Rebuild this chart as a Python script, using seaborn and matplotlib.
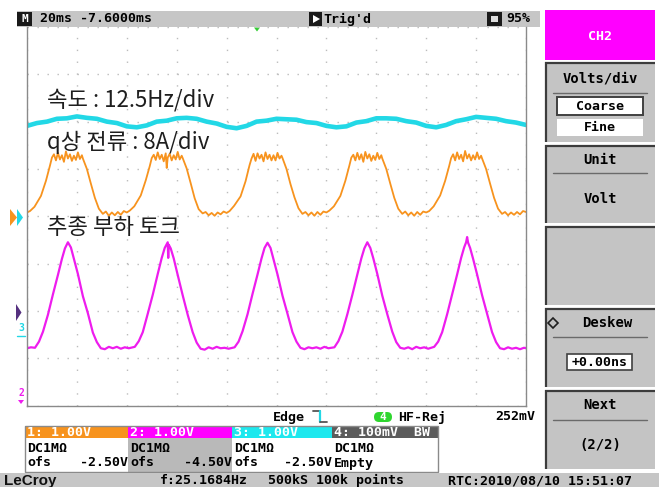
import matplotlib
matplotlib.use("Agg")
import matplotlib.pyplot as plt
from matplotlib.patches import Rectangle, Polygon, FancyBboxPatch
import pandas as pd
import seaborn as sns

# ---------------- data (time in ms, 20 ms/div; amplitude in screen divisions from bottom) ----------------
speed_t = [0, 4, 8, 12, 16, 20, 24, 28, 32, 36, 40, 44, 48, 52, 56, 60, 64, 68, 72, 76,
           80, 84, 88, 92, 96, 100, 104, 108, 112, 116, 120, 124, 128, 132, 136, 140, 144, 148, 152, 156,
           160, 164, 168, 172, 176, 180, 184, 188, 192, 196, 200]
speed_v = [5.91, 5.97, 6.00, 6.06, 6.07, 6.11, 6.08, 6.06, 6.00, 5.97, 5.90, 5.88, 5.92, 6.00, 6.02, 6.07, 6.08, 6.06, 6.00, 5.96,
           5.89, 5.86, 5.91, 6.00, 6.02, 6.06, 6.05, 6.04, 5.99, 5.97, 5.91, 5.88, 5.90, 5.98, 6.01, 6.07, 6.07, 6.06, 6.01, 5.98,
           5.91, 5.88, 5.93, 6.01, 6.05, 6.10, 6.08, 6.06, 6.01, 5.98, 5.93]

current_t = [
    0.0, 1.2, 3.0, 5.6, 7.6, 9.2, 10.0,
    10.8, 11.6, 12.4, 13.2, 14.0, 14.8, 15.6, 16.4, 17.2, 18.0, 18.8, 19.6, 20.4, 21.2, 22.0, 22.4,
    24.0, 25.6, 27.2, 28.8, 30.4,
    31.6, 32.8, 34.0, 35.2, 36.4, 37.6, 38.8,
    40.0, 41.2, 43.0, 45.6, 47.6, 49.2, 50.0,
    50.8, 51.6, 52.4, 53.2, 54.0, 54.8, 55.6, 56.0, 56.4, 57.2, 58.0, 58.8, 59.6, 60.4, 61.2, 62.0, 62.4,
    64.0, 65.6, 67.2, 68.8, 70.4,
    71.6, 72.8, 74.0, 75.2, 76.4, 77.6, 78.8,
    80.0, 81.2, 83.0, 85.6, 87.6, 89.2, 90.0,
    90.8, 91.6, 92.4, 93.2, 94.0, 94.8, 95.6, 96.4, 97.2, 98.0, 98.8, 99.6, 100.4, 101.2, 102.0, 102.4,
    104.0, 105.6, 107.2, 108.8, 110.4,
    111.6, 112.8, 114.0, 115.2, 116.4, 117.6, 118.8,
    120.0, 121.2, 123.0, 125.6, 127.6, 129.2, 130.0,
    130.8, 131.6, 132.4, 133.2, 134.0, 134.8, 135.6, 136.4, 137.2, 138.0, 138.8, 139.6, 140.4, 141.2, 142.0, 142.4,
    144.0, 145.6, 147.2, 148.8, 150.4,
    151.6, 152.8, 154.0, 155.2, 156.4, 157.6, 158.8,
    160.0, 161.2, 163.0, 165.6, 167.6, 169.2, 170.0,
    170.8, 171.6, 172.4, 173.2, 174.0, 174.8, 175.6, 176.4, 177.2, 178.0, 178.8, 179.6, 180.4, 181.2, 182.0, 182.4,
    184.0, 185.6, 187.2, 188.8, 190.4,
    191.6, 192.8, 194.0, 195.2, 196.4, 197.6, 198.8, 200.0,
]
current_v = [
    4.08, 4.11, 4.20, 4.43, 4.75, 5.07, 5.24,
    5.31, 5.18, 5.34, 5.20, 5.29, 5.15, 5.37, 5.22, 5.31, 5.17, 5.28, 5.19, 5.35, 5.21, 5.29, 5.22,
    5.00, 4.69, 4.39, 4.16, 4.05,
    4.10, 4.01, 4.08, 4.02, 4.09, 4.03, 4.11,
    4.08, 4.12, 4.21, 4.44, 4.76, 5.06, 5.23,
    5.30, 5.19, 5.35, 5.21, 5.30, 5.16, 5.33, 5.02, 5.24, 5.32, 5.18, 5.29, 5.20, 5.36, 5.20, 5.28, 5.23,
    5.01, 4.70, 4.38, 4.15, 4.06,
    4.09, 4.02, 4.07, 4.01, 4.08, 4.04, 4.10,
    4.07, 4.11, 4.22, 4.42, 4.74, 5.08, 5.22,
    5.32, 5.17, 5.33, 5.22, 5.30, 5.16, 5.35, 5.21, 5.30, 5.18, 5.29, 5.18, 5.34, 5.22, 5.28, 5.23,
    5.00, 4.68, 4.40, 4.17, 4.05,
    4.09, 4.02, 4.08, 4.01, 4.09, 4.03, 4.10,
    4.08, 4.12, 4.21, 4.43, 4.75, 5.07, 5.24,
    5.30, 5.18, 5.34, 5.20, 5.31, 5.15, 5.36, 5.22, 5.31, 5.17, 5.28, 5.19, 5.34, 5.21, 5.29, 5.22,
    5.00, 4.69, 4.39, 4.16, 4.05,
    4.10, 4.02, 4.08, 4.01, 4.09, 4.03, 4.10,
    4.08, 4.11, 4.21, 4.44, 4.75, 5.06, 5.23,
    5.31, 5.18, 5.35, 5.21, 5.30, 5.16, 5.38, 5.22, 5.31, 5.18, 5.29, 5.20, 5.35, 5.21, 5.28, 5.22,
    5.00, 4.69, 4.39, 4.16, 4.05,
    4.09, 4.02, 4.08, 4.03, 4.09, 4.04, 4.11, 4.09,
]

torque_t = [
    0.0, 1.6,
    3.2, 4.8, 6.4, 8.4, 10.4, 12.4, 14.0, 15.2, 16.4, 17.6, 18.8, 20.4, 22.4, 24.4, 26.4, 28.0, 29.6,
    31.2, 32.8, 34.4, 36.0, 37.6, 39.2, 40.8,
    43.2, 44.8, 46.4, 48.4, 50.4, 52.4, 54.0, 55.2, 56.4, 56.6, 56.8, 57.6, 58.8, 60.4, 62.4, 64.4, 66.4, 68.0, 69.6,
    71.2, 72.8, 74.4, 76.0, 77.6, 79.2, 80.8,
    83.2, 84.8, 86.4, 88.4, 90.4, 92.4, 94.0, 95.2, 96.4, 97.6, 98.8, 100.4, 102.4, 104.4, 106.4, 108.0, 109.6,
    111.2, 112.8, 114.4, 116.0, 117.6, 119.2, 120.8,
    123.2, 124.8, 126.4, 128.4, 130.4, 132.4, 134.0, 135.2, 136.4, 137.6, 138.8, 140.4, 142.4, 144.4, 146.4, 148.0, 149.6,
    151.2, 152.8, 154.4, 156.0, 157.6, 159.2, 160.8,
    163.2, 164.8, 166.4, 168.4, 170.4, 172.4, 174.0, 175.2, 176.0, 176.4, 176.8, 177.6, 178.8, 180.4, 182.4, 184.4, 186.4, 188.0, 189.6,
    191.2, 192.8, 194.4, 196.0, 197.6, 199.2, 200.0,
]
torque_v = [
    1.21, 1.23,
    1.22, 1.35, 1.56, 1.92, 2.35, 2.76, 3.10, 3.32, 3.45, 3.34, 3.10, 2.78, 2.31, 1.95, 1.54, 1.34, 1.21,
    1.19, 1.24, 1.21, 1.24, 1.20, 1.23, 1.21,
    1.24, 1.36, 1.55, 1.94, 2.34, 2.78, 3.12, 3.33, 3.45, 3.12, 3.40, 3.32, 3.11, 2.76, 2.33, 1.92, 1.55, 1.33, 1.20,
    1.18, 1.23, 1.20, 1.24, 1.21, 1.22, 1.20,
    1.23, 1.35, 1.57, 1.93, 2.36, 2.77, 3.11, 3.33, 3.44, 3.33, 3.09, 2.77, 2.32, 1.94, 1.55, 1.35, 1.22,
    1.19, 1.23, 1.21, 1.23, 1.20, 1.24, 1.21,
    1.23, 1.36, 1.56, 1.93, 2.34, 2.77, 3.11, 3.32, 3.45, 3.33, 3.11, 2.78, 2.32, 1.93, 1.56, 1.34, 1.22,
    1.20, 1.23, 1.19, 1.24, 1.21, 1.23, 1.20,
    1.24, 1.35, 1.55, 1.93, 2.35, 2.77, 3.12, 3.34, 3.45, 3.56, 3.44, 3.33, 3.10, 2.77, 2.33, 1.94, 1.55, 1.34, 1.21,
    1.19, 1.23, 1.20, 1.22, 1.19, 1.22, 1.21,
]

trace_labels = ["속도 : 12.5Hz/div", "q상 전류 : 8A/div", "추종 부하 토크"]
channel_headers = ["1: 1.00V", "2: 1.00V", "3: 1.00V", "4: 100mV  BW"]
channel_coupling = ["DC1MΩ", "DC1MΩ", "DC1MΩ", "DC1MΩ"]
channel_offsets = ["-2.50V", "-4.50V", "-2.50V", ""]
channel_offset_names = ["ofs", "ofs", "ofs", "Empty"]
div_ticks_x = [0, 20, 40, 60, 80, 100, 120, 140, 160, 180, 200]
div_ticks_y = [0, 1, 2, 3, 4, 5, 6, 7, 8]

# ---------------- style ----------------
sns.set_theme(style="white")
plt.rcParams['font.family'] = ['DejaVu Sans']
plt.rcParams['lines.scale_dashes'] = False

ORANGE = "#f7931e"
MAGENTA = "#ee1cee"
CYAN = "#22d8e6"
MONO = "DejaVu Sans Mono"
KR = ["Noto Sans CJK KR", "DejaVu Sans"]

W, H = 659, 487
fig = plt.figure(figsize=(W / 100, H / 100), dpi=100)
fig.patch.set_facecolor("white")

# overlay in pixel coordinates for the scope UI chrome
ov = fig.add_axes([0, 0, 1, 1], zorder=0)
ov.set_xlim(0, W)
ov.set_ylim(H, 0)
ov.axis("off")

X0, X1, Y0, Y1 = 27, 526, 27, 405.5
ax = fig.add_axes([X0 / W, 1 - Y1 / H, (X1 - X0) / W, (Y1 - Y0) / H], zorder=1)
ax.set_facecolor("none")

df_speed = pd.DataFrame({"t": speed_t, "v": speed_v})
df_cur = pd.DataFrame({"t": current_t, "v": current_v})
df_tq = pd.DataFrame({"t": torque_t, "v": torque_v})

sns.lineplot(data=df_speed, x="t", y="v", ax=ax, color=CYAN, linewidth=3.3, estimator=None, sort=False)
sns.lineplot(data=df_cur, x="t", y="v", ax=ax, color=ORANGE, linewidth=1.3, estimator=None, sort=False)
sns.lineplot(data=df_tq, x="t", y="v", ax=ax, color=MAGENTA, linewidth=1.6, estimator=None, sort=False)

ax.set_xlim(0, 200)
ax.set_ylim(0, 8)
ax.set_xticks(div_ticks_x)
ax.set_yticks(div_ticks_y)
ax.tick_params(length=0, labelbottom=False, labelleft=False)
ax.set_xlabel("")
ax.set_ylabel("")
ax.xaxis.grid(True, color="#bcbcbc", linewidth=1.0, linestyle=(0, (1.0, 7.53)))
ax.yaxis.grid(True, color="#bcbcbc", linewidth=1.0, linestyle=(0, (1.0, 6.2)))
ax.set_axisbelow(True)
for side in ["left", "bottom", "right"]:
    ax.spines[side].set_visible(True)
    ax.spines[side].set_color("#8a8a8a")
    ax.spines[side].set_linewidth(1.0)
ax.spines["top"].set_visible(False)

# trace annotations (Korean)
for lab, yy in zip(trace_labels, [100, 142, 228]):
    ax.text(47, yy, lab, transform=ov.transData, family=KR, fontsize=16, color="#1e1e1e",
            ha="left", va="center", clip_on=False, zorder=5)

def txt(x, y, s, ha="left", color="black", size=9.5, weight="bold", family=MONO, **kw):
    ov.text(x, y, s, ha=ha, va="center", color=color, fontsize=size, fontweight=weight, family=family, **kw)

# ---------------- top status bar ----------------
ov.add_patch(Rectangle((17, 11), 523, 16, facecolor="#c6c6c6", edgecolor="none"))
ov.add_patch(Rectangle((17, 12), 15, 14, facecolor="#1a1a1a", edgecolor="none"))
txt(24.5, 19, "M", ha="center", color="white", size=8)
txt(40, 19, "20ms -7.6000ms")
ov.add_patch(Rectangle((309, 12), 13, 14, facecolor="#1a1a1a", edgecolor="none"))
ov.add_patch(Polygon([(313, 15), (320, 19), (313, 23)], facecolor="white", edgecolor="none"))
txt(323, 19, "Trig'd")
ov.add_patch(Rectangle((487, 12), 15, 14, facecolor="#1a1a1a", edgecolor="none"))
ov.add_patch(Rectangle((491, 16), 7, 6, facecolor="#dddddd", edgecolor="none"))
txt(506, 19, "95%")
ov.add_patch(Polygon([(254, 27.5), (260, 27.5), (257, 31.5)], facecolor="#33cc33", edgecolor="none"))

# ---------------- left edge markers ----------------
ov.add_patch(Polygon([(10, 209), (17, 217.5), (10, 226)], facecolor=ORANGE, edgecolor="none"))
ov.add_patch(Polygon([(17, 209), (23, 217.5), (17, 226)], facecolor=CYAN, edgecolor="none"))
ov.add_patch(Polygon([(16, 304), (21.5, 312.5), (16, 321)], facecolor="#55307f", edgecolor="none"))
txt(21, 328, "3", ha="center", color=CYAN, size=7)
ov.plot([17, 25], [336, 336], color=CYAN, lw=1)
txt(21, 393, "2", ha="center", color=MAGENTA, size=7)
ov.add_patch(Polygon([(18, 400), (24, 400), (21, 404)], facecolor=MAGENTA, edgecolor="none"))

# ---------------- right menu panel ----------------
PX0, PX1 = 545, 655
PXC = (PX0 + PX1) / 2

def button(y_top, y_bot, face="#c4c4c4"):
    ov.add_patch(Rectangle((PX0, y_top), PX1 - PX0, y_bot - y_top, facecolor=face, edgecolor="none"))
    ov.plot([PX0 + 0.7, PX0 + 0.7], [y_bot, y_top], color="#3c3c3c", lw=1.6, solid_capstyle="butt")
    ov.plot([PX0, PX1], [y_top + 0.7, y_top + 0.7], color="#3c3c3c", lw=1.6, solid_capstyle="butt")

def separator(y):
    ov.plot([PX0 + 8, PX1 - 8], [y, y], color="#6a6a6a", lw=1.0)

ov.add_patch(Rectangle((PX0, 10), PX1 - PX0, 50, facecolor="#ff00ff", edgecolor="none"))
txt(PXC, 36, "CH2", ha="center", color="white", size=9.5)

button(62, 142)
txt(PXC, 78, "Volts/div", ha="center", size=10)
separator(93)
ov.add_patch(Rectangle((557, 97), 86, 18, facecolor="white", edgecolor="#404040", lw=1.4))
txt(PXC, 106, "Coarse", ha="center", size=9.5)
ov.add_patch(Rectangle((557, 119), 86, 17, facecolor="white", edgecolor="none"))
txt(PXC, 127.5, "Fine", ha="center", size=9.5)

button(145, 223)
txt(PXC, 160, "Unit", ha="center", size=10)
separator(173)
txt(PXC, 199, "Volt", ha="center", size=10)

button(226, 305)

button(308, 387)
ov.add_patch(Polygon([(548, 323), (553, 318), (558, 323), (553, 328)], facecolor="none", edgecolor="#202020", lw=1.2))
txt(607, 323, "Deskew", ha="center", size=10)
separator(337)
ov.add_patch(Rectangle((567, 354), 65, 16, facecolor="white", edgecolor="#404040", lw=1.2))
txt(599.5, 362, "+0.00ns", ha="center", size=9.5)

button(390, 469)
txt(PXC, 405, "Next", ha="center", size=10)
separator(420)
txt(PXC, 445, "(2/2)", ha="center", size=10)

# ---------------- trigger line ----------------
txt(273, 417, "Edge", size=9.5)
ov.plot([313, 320], [411, 411], color="#555555", lw=1.3)
ov.plot([320, 320], [411, 422], color=CYAN, lw=1.6)
ov.plot([320, 327], [422, 422], color="#555555", lw=1.3)
ov.add_patch(FancyBboxPatch((374, 412), 18, 10, boxstyle="round,pad=0,rounding_size=5",
                            facecolor="#2fd62f", edgecolor="none"))
txt(383, 417, "4", ha="center", color="white", size=8)
txt(398, 417, "HF-Rej", size=9.5)
txt(535, 417, "252mV", ha="right", size=9.5)

# ---------------- channel boxes ----------------
box_x = [25, 128, 232, 332, 438]
head_cols = [ORANGE, "#ff00ff", "#1ee8ee", "#5c5c5c"]
body_cols = ["white", "#b9b9b9", "white", "white"]
for i in range(4):
    xl, xr = box_x[i], box_x[i + 1]
    ov.add_patch(Rectangle((xl, 426), xr - xl, 12, facecolor=head_cols[i], edgecolor="none"))
    ov.add_patch(Rectangle((xl, 438), xr - xl, 34, facecolor=body_cols[i], edgecolor="none"))
    txt(xl + 2, 432, channel_headers[i], color="white", size=9.5)
    txt(xl + 2, 448, channel_coupling[i], size=9.5)
    txt(xl + 2, 463, channel_offset_names[i], size=9.5)
    if channel_offsets[i]:
        txt(xr, 463, channel_offsets[i], ha="right", size=9.5)
ov.add_patch(Rectangle((25, 426), 413, 46, facecolor="none", edgecolor="#8a8a8a", lw=1.0))

# ---------------- footer ----------------
ov.add_patch(Rectangle((0, 472.5), W, 15, facecolor="#c6c6c6", edgecolor="none"))
ov.text(4, 480.5, "LeCroy", ha="left", va="center", fontsize=11, fontweight="bold",
        family="Liberation Sans", color="#111111")
txt(160, 480.5, "f:25.1684Hz", size=9.5)
txt(268, 480.5, "500kS 100k points", size=9.5)
txt(448, 480.5, "RTC:2010/08/10 15:51:07", size=9.5)

fig.savefig("out.png", dpi=100, facecolor="white")
